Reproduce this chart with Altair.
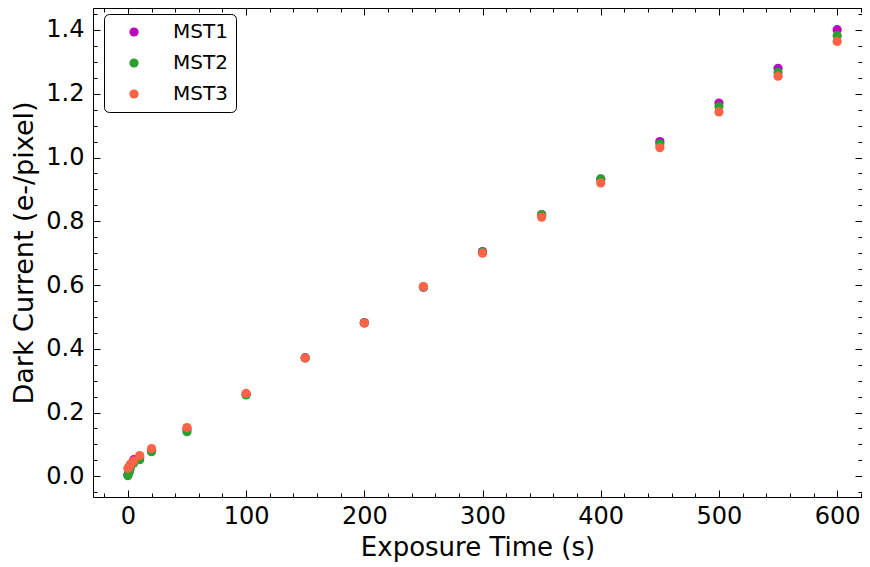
import altair as alt
import pandas as pd

# ---- data ----
times = [0, 1, 2, 5, 10, 20, 50, 100, 150, 200, 250, 300, 350, 400, 450, 500, 550, 600]
mst1 = [0.005, 0.015, 0.030, 0.052, 0.060, 0.082, 0.148, 0.258, 0.372, 0.482, 0.593,
        0.705, 0.820, 0.932, 1.050, 1.171, 1.280, 1.401]
mst2 = [0.002, 0.012, 0.025, 0.042, 0.052, 0.077, 0.140, 0.255, 0.371, 0.481, 0.594,
        0.703, 0.821, 0.933, 1.042, 1.160, 1.267, 1.382]
mst3 = [0.025, 0.030, 0.038, 0.048, 0.065, 0.087, 0.153, 0.260, 0.371, 0.481, 0.595,
        0.700, 0.813, 0.920, 1.031, 1.143, 1.255, 1.364]
series = ["MST1", "MST2", "MST3"]
colors = ["#bf00bf", "#2ca02c", "#ff6347"]

x_major = [0, 100, 200, 300, 400, 500, 600]
x_minor = list(range(-20, 621, 20))
y_major = [0.0, 0.2, 0.4, 0.6, 0.8, 1.0, 1.2, 1.4]
y_minor = [round(-0.05 + 0.05 * i, 2) for i in range(31)]

rows = []
for name, vals in zip(series, [mst1, mst2, mst3]):
    for t, v in zip(times, vals):
        rows.append({"time": t, "dc": v, "series": name})
df = pd.DataFrame(rows)

xs = alt.Scale(domain=[-29.5, 621], nice=False, zero=False)
ys = alt.Scale(domain=[-0.065, 1.469], nice=False, zero=False)

pts = alt.Chart(df).mark_circle(size=85, opacity=1).encode(
    x=alt.X("time:Q", scale=xs, axis=alt.Axis(
        orient="bottom", values=x_major, format="d", title="Exposure Time (s)",
        ticks=False, domain=False, grid=False, labelFontSize=24, labelPadding=7,
        titlePadding=6, titleFontSize=26)),
    y=alt.Y("dc:Q", scale=ys, axis=alt.Axis(
        orient="left", values=y_major, format=".1f", title="Dark Current (e-/pixel)",
        ticks=False, domain=False, grid=False, labelFontSize=24, labelPadding=9,
        titlePadding=7, titleFontSize=27)),
    color=alt.Color("series:N", scale=alt.Scale(domain=series, range=colors),
                    legend=alt.Legend(
                        title=None, orient="none", legendX=11, legendY=6,
                        strokeColor="black", cornerRadius=5, fillColor="white",
                        padding=8, labelFontSize=20, labelFont="DejaVu Sans",
                        labelColor="black", symbolSize=85, symbolType="circle",
                        symbolOffset=12, labelOffset=29, rowPadding=11,
                        symbolOpacity=1, symbolStrokeWidth=0)),
)


def tick_layer(xorient, yorient, xvals, yvals, size):
    return alt.Chart(df).mark_circle(opacity=0).encode(
        x=alt.X("time:Q", scale=xs, axis=alt.Axis(
            orient=xorient, values=xvals, labels=False, title=None, domain=False,
            grid=False, ticks=True, tickSize=size, offset=-size,
            tickColor="black", tickWidth=1)),
        y=alt.Y("dc:Q", scale=ys, axis=alt.Axis(
            orient=yorient, values=yvals, labels=False, title=None, domain=False,
            grid=False, ticks=True, tickSize=size, offset=-size,
            tickColor="black", tickWidth=1)),
    )


chart = alt.layer(
    pts,
    tick_layer("bottom", "left", x_major, y_major, 7),
    tick_layer("bottom", "left", x_minor, y_minor, 4),
    tick_layer("top", "right", x_major, y_major, 7),
    tick_layer("top", "right", x_minor, y_minor, 4),
).resolve_axis(x="independent", y="independent").properties(
    width=769, height=489,
    padding={"left": 85, "top": 0, "right": 0, "bottom": 66},
    autosize=alt.AutoSizeParams(type="none"),
).configure_view(stroke="black", strokeWidth=1).configure_axis(
    labelFont="DejaVu Sans", titleFont="DejaVu Sans", labelColor="black",
    titleColor="black", titleFontWeight="normal",
)

chart.save("out.html", embed_options={"renderer": "svg", "actions": False})
